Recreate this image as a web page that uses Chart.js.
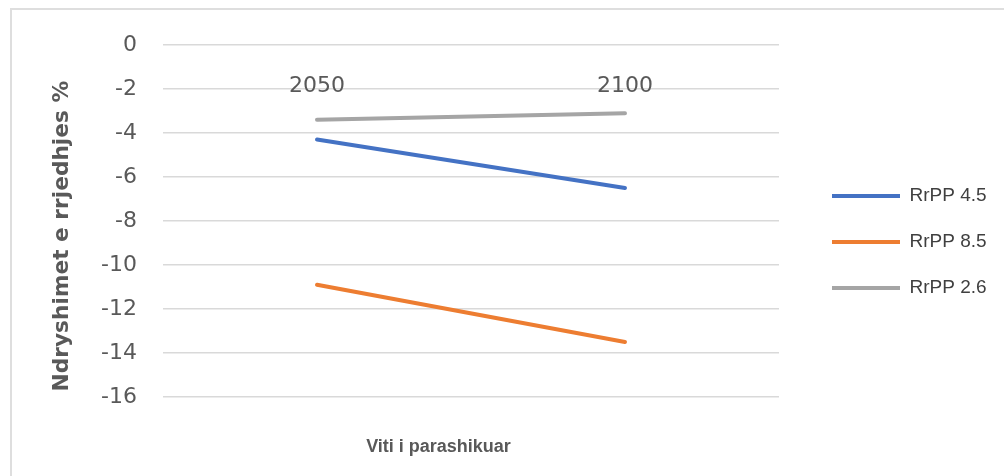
<!DOCTYPE html>
<html><head><meta charset="utf-8">
<script src="https://cdn.jsdelivr.net/npm/chart.js@4"></script>
<style>
html,body{margin:0;padding:0;background:#fff;}
#wrap{position:relative;width:1004px;height:476px;overflow:hidden;}
#frame{position:absolute;left:10px;top:8px;width:1100px;height:600px;border-top:2px solid #dedede;border-left:2px solid #dedede;box-sizing:border-box;}
canvas{position:absolute;left:0;top:0;}
</style></head><body>
<div id="wrap"><div id="frame"></div><canvas id="c" width="1004" height="476"></canvas></div>
<script>
// ---- data ----
const categories = ['2050', '2100'];
const seriesNames = ['RrPP 4.5', 'RrPP 8.5', 'RrPP 2.6'];
const rrpp45 = [-4.3, -6.5];
const rrpp85 = [-10.9, -13.5];
const rrpp26 = [-3.4, -3.1];
const yTicks = [0, -2, -4, -6, -8, -10, -12, -14, -16];
const yTitle = 'Ndryshimet e rrjedhjes %';
const xTitle = 'Viti i parashikuar';

// ---- styles ----
const colors = ['#4472C4', '#ED7D31', '#A5A5A5'];
const tickFont = {family: 'DejaVu Sans', size: 22};
const yTitleFont = {family: 'DejaVu Sans', size: 21.7, weight: 'bold'};
const xTitleFont = {family: '"Liberation Sans", Arial, sans-serif', size: 18, weight: 'bold'};
const legendFont = {family: '"Liberation Sans", Arial, sans-serif', size: 19};

// shift a centred title by appending spaces
function shifted(text, font, shiftPx) {
  const ctx = document.createElement('canvas').getContext('2d');
  ctx.font = (font.weight || '') + ' ' + font.size + 'px ' + font.family;
  const sw = ctx.measureText(' ').width;
  return text + ' '.repeat(Math.max(0, Math.round(2 * shiftPx / sw)));
}

const seriesData = [rrpp45, rrpp85, rrpp26];
const datasets = seriesNames.map((name, i) => ({
  label: name,
  data: seriesData[i],
  borderColor: colors[i],
  backgroundColor: colors[i],
  borderWidth: 4,
  borderCapStyle: 'round',
  pointRadius: 0,
  pointHoverRadius: 0,
  tension: 0,
  xAxisID: 'x',
  yAxisID: 'y'
}));

new Chart(document.getElementById('c'), {
  type: 'line',
  data: {labels: categories, datasets},
  options: {
    responsive: false,
    animation: false,
    layout: {padding: {left: 40, right: 4, top: 12, bottom: 4}},
    plugins: {
      tooltip: {enabled: false},
      legend: {
        position: 'right',
        align: 'center',
        maxWidth: 195,
        labels: {
          boxWidth: 68,
          boxHeight: 4,
          padding: 27,
          color: '#404040',
          font: legendFont,
          generateLabels: chart => Chart.defaults.plugins.legend.labels.generateLabels(chart)
            .map(l => Object.assign(l, {fillStyle: l.strokeStyle, lineWidth: 0}))
        }
      }
    },
    scales: {
      x: {
        type: 'category',
        position: {y: 0},
        offset: true,
        grid: {display: false, drawTicks: false},
        border: {display: false},
        ticks: {font: tickFont, color: '#595959', padding: 28, maxRotation: 0}
      },
      x2: {
        type: 'category',
        labels: categories,
        position: 'bottom',
        offset: true,
        grid: {display: false, drawTicks: false},
        border: {display: false},
        ticks: {display: false},
        title: {display: true, text: shifted(xTitle, xTitleFont, 33), font: xTitleFont, color: '#595959', padding: {top: 0, bottom: 14}},
        afterFit: s => { s.height = 75; s.paddingRight = 225; s.paddingLeft = 0; }
      },
      y: {
        type: 'linear',
        position: 'left',
        min: -16,
        max: 0,
        afterBuildTicks: s => { s.ticks = yTicks.map(v => ({value: v})); },
        grid: {color: '#d9d9d9', lineWidth: 1.5, drawTicks: false},
        border: {display: false},
        ticks: {font: tickFont, color: '#595959', padding: 26},
        title: {display: true, text: shifted(yTitle, yTitleFont, 16), font: yTitleFont, color: '#595959', padding: {top: 9, bottom: 0}},
        afterFit: s => { s.width = 123; s.paddingTop = 45; }
      },
      ySpacer: {
        type: 'linear',
        position: 'right',
        grid: {display: false, drawTicks: false},
        border: {display: false},
        ticks: {display: false},
        afterFit: s => { s.width = 26; }
      }
    }
  }
});
</script>
</body></html>
